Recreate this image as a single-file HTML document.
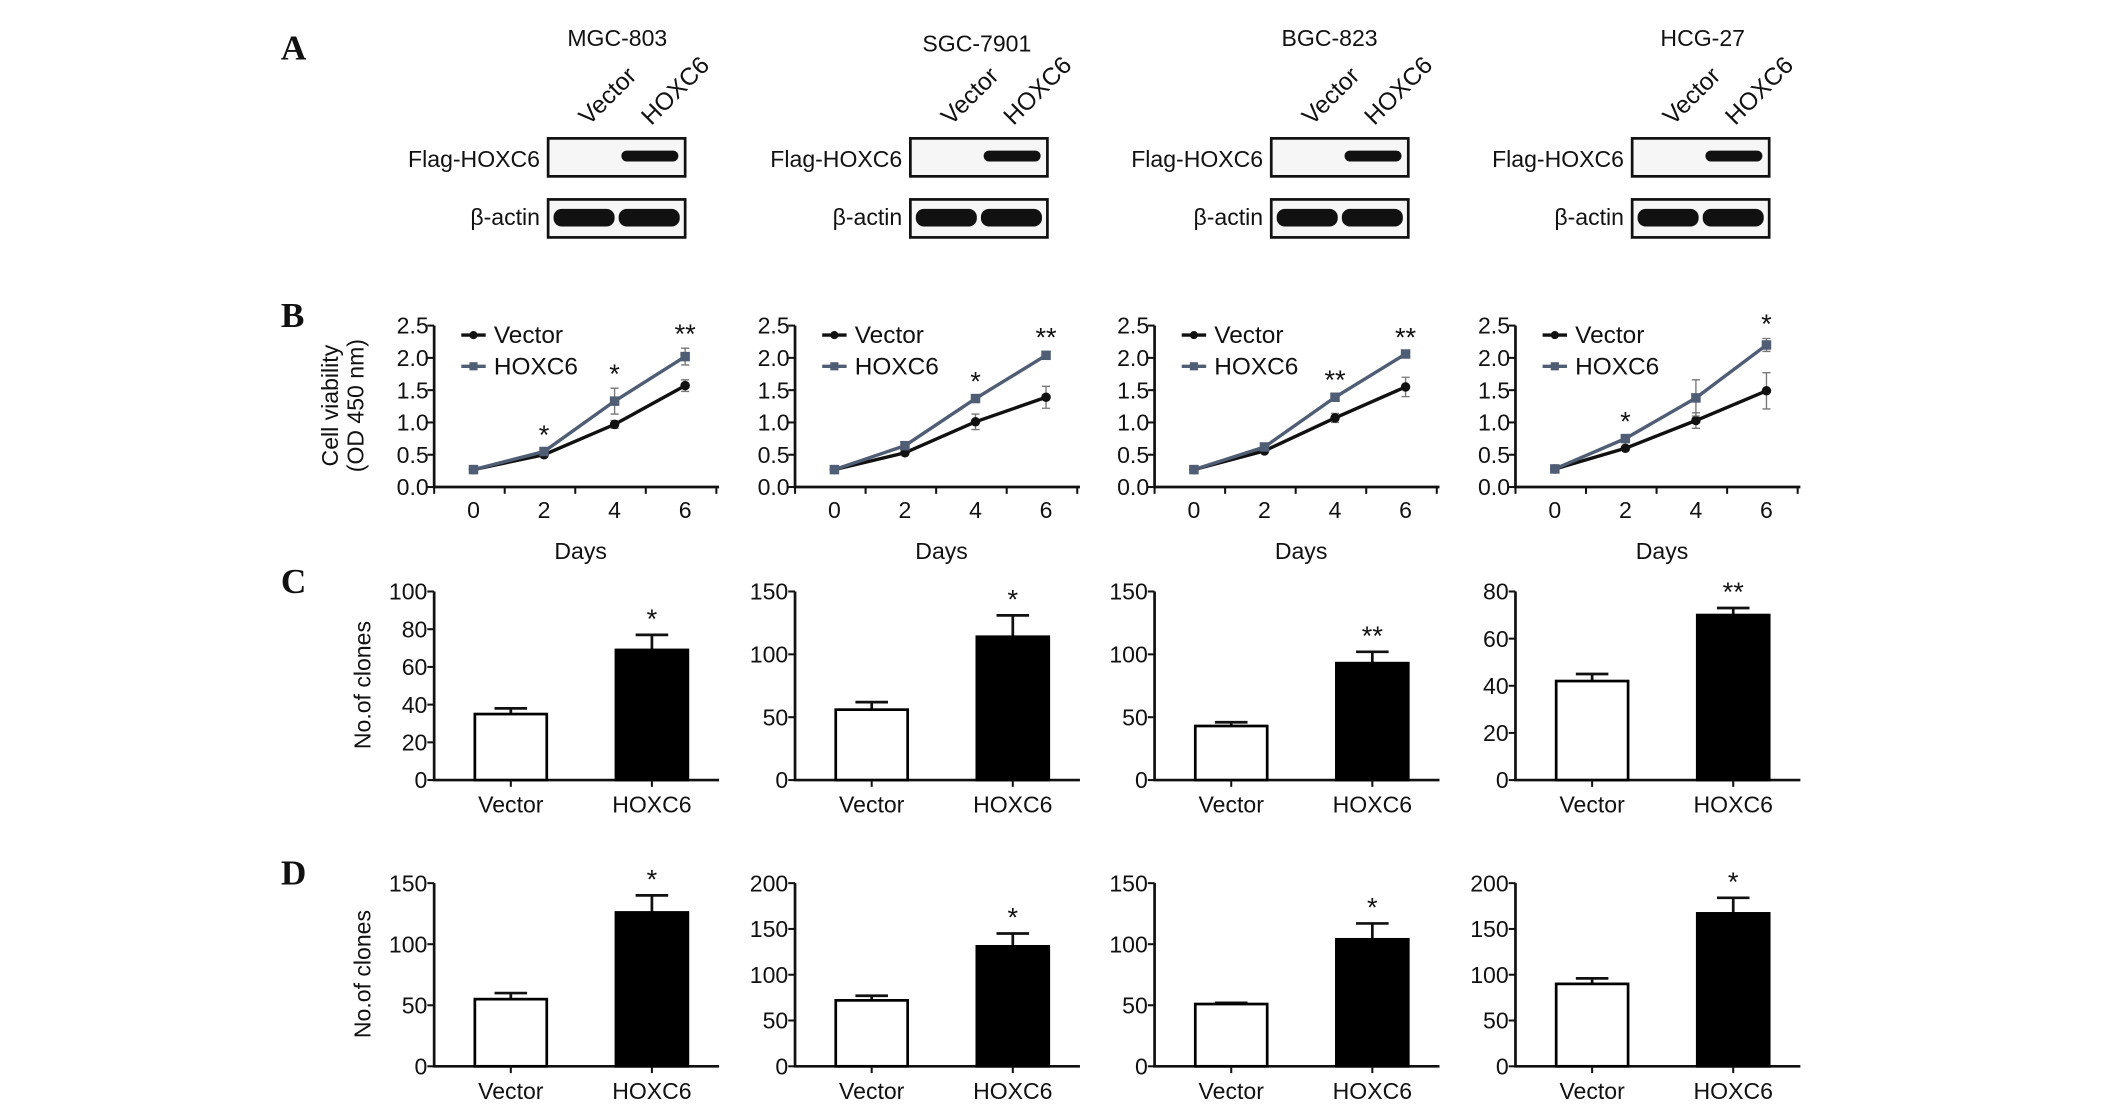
<!DOCTYPE html>
<html><head><meta charset="utf-8"><style>
html,body{margin:0;padding:0;background:#fff;}
svg{display:block;}
text{font-family:"Liberation Sans",Arial,sans-serif;fill:#111;}
</style></head>
<body>
<svg id="fig" width="2126" height="1107" viewBox="0 0 1567 816" preserveAspectRatio="none" xmlns="http://www.w3.org/2000/svg">
<g font-weight="bold" font-size="26">
<text x="207" y="44" style="font-family:'Liberation Serif',serif">A</text>
<text x="207" y="241" style="font-family:'Liberation Serif',serif">B</text>
<text x="207" y="437" style="font-family:'Liberation Serif',serif">C</text>
<text x="207" y="652" style="font-family:'Liberation Serif',serif">D</text>
</g>
</svg>
<script>
// ---- data ----
const cellLines = ["MGC-803","SGC-7901","BGC-823","HCG-27"];
const days = [0,2,4,6];
const vecGrowth = [[0.27,0.50,0.97,1.57],[0.27,0.53,1.01,1.39],[0.27,0.56,1.07,1.55],[0.28,0.60,1.03,1.49]];
const vecGrowthErr = [[0.02,0.02,0.06,0.09],[0.02,0.03,0.12,0.17],[0.02,0.03,0.07,0.15],[0.02,0.03,0.12,0.28]];
const hoxGrowth = [[0.27,0.55,1.33,2.02],[0.27,0.64,1.37,2.04],[0.27,0.62,1.39,2.06],[0.28,0.75,1.38,2.20]];
const hoxGrowthErr = [[0.02,0.03,0.20,0.13],[0.02,0.04,0.04,0.05],[0.02,0.03,0.04,0.03],[0.02,0.04,0.28,0.10]];
const growthStars = [["","*","*","**"],["","","*","**"],["","","**","**"],["","*","","*"]];
const growthTicks = ["0.0","0.5","1.0","1.5","2.0","2.5"];
const groups = ["Vector","HOXC6"];
const cVals = [[35,69],[56,114],[43,93],[42,70]];
const cErrs = [[3,8],[6,17],[3,9],[3,3]];
const cMax = [100,150,150,80];
const cStep = [20,50,50,20];
const cStars = ["*","*","**","**"];
const dVals = [[55,126],[72,131],[51,104],[90,167]];
const dErrs = [[5,14],[5,14],[1,13],[6,17]];
const dMax = [150,200,150,200];
const dStep = [50,50,50,50];
const dStars = ["*","*","*","*"];

const NS="http://www.w3.org/2000/svg";
const svg=document.getElementById('fig');
function mk(tag,attrs,parent,txt){const e=document.createElementNS(NS,tag);for(const k in attrs)e.setAttribute(k,attrs[k]);if(txt!==undefined)e.textContent=txt;(parent||svg).appendChild(e);return e;}
const axisX=[320,586,851,1117];

// ---- Row A: blots ----
const boxX=[404,671,937,1203];
const titleX=[455,720,980,1255];
const titleY=[34,38,34,34];
cellLines.forEach((cl,i)=>{
  const g=mk('g',{});
  
  
  const t=mk('text',{x:titleX[i],y:titleY[i],'font-size':17,'text-anchor':'middle'},g,cl);
  
  
  const bx=boxX[i];
  [['Vector',bx+30],['HOXC6',bx+76]].forEach(([s,x])=>{
    const lt=mk('text',{x:x,y:93,'font-size':18,transform:`rotate(-45 ${x} 93)`},g,s);
    
    
  });
  const l1=mk('text',{x:bx-6,y:123,'font-size':17,'text-anchor':'end'},g,'Flag-HOXC6');
  
  const l2=mk('text',{x:bx-6,y:166,'font-size':17,'text-anchor':'end'},g,'β-actin');
  
  const b1=mk('rect',{x:bx,y:102,width:101,height:28,fill:'#f6f6f6',stroke:'#111','stroke-width':2},g);
  
  const band1=mk('rect',{x:bx+54,y:111,width:42,height:8,rx:4,fill:'#111'},g);
  
  const b2=mk('rect',{x:bx,y:147,width:101,height:28,fill:'#f6f6f6',stroke:'#111','stroke-width':2},g);
  
  [bx+4,bx+52].forEach(x=>{const bd=mk('rect',{x:x,y:154,width:45,height:13,rx:6,fill:'#111'},g);
    });
});

// ---- Row B: growth curves ----
cellLines.forEach((cl,i)=>{
  const g=mk('g',{});
  
  
  const ax=axisX[i], y0=359, yTop=240, x0=ax+29, dx=26;
  const X=d=>x0+d*dx, Y=v=>y0-(v/2.5)*(y0-yTop);
  const a=mk('path',{d:`M${ax},${yTop} V${y0} H${ax+210}`,stroke:'#111','stroke-width':2,fill:'none'},g);
  
  growthTicks.forEach((s,k)=>{const v=parseFloat(s);
    mk('line',{x1:ax-5,x2:ax,y1:Y(v),y2:Y(v),stroke:'#111','stroke-width':1.5},g);
    const t=mk('text',{x:ax-4,y:Y(v)+6,'font-size':17,'text-anchor':'end'},g,s);
    });
  for(let k=0;k<5;k++){
    mk('line',{x1:ax+k*52,x2:ax+k*52,y1:y0,y2:y0+5,stroke:'#111','stroke-width':1.5},g);}
  days.forEach(d=>{const t=mk('text',{x:X(d),y:y0+23,'font-size':17,'text-anchor':'middle'},g,d);
    });
  const xt=mk('text',{x:ax+108,y:412,'font-size':17,'text-anchor':'middle'},g,'Days');
  
  if(i===0){
    const yt=mk('text',{'font-size':17,'text-anchor':'middle',transform:`translate(249,${y0-60}) rotate(-90)`},g);
    
    mk('tspan',{x:0,y:0},yt,'Cell viability');
    mk('tspan',{x:0,y:19},yt,'(OD 450 nm)');
  }
  [[vecGrowth[i],vecGrowthErr[i],'#111','circle','vector'],[hoxGrowth[i],hoxGrowthErr[i],'#4f5d75','square','hoxc6']].forEach(([vals,errs,col,mark,nm])=>{
    const p=mk('polyline',{points:vals.map((v,k)=>X(days[k])+','+Y(v)).join(' '),fill:'none',stroke:col,'stroke-width':2.5},g);
    
    vals.forEach((v,k)=>{const x=X(days[k]);
      mk('path',{d:`M${x-3},${Y(v+errs[k])}H${x+3}M${x},${Y(v+errs[k])}V${Y(v-errs[k])}M${x-3},${Y(v-errs[k])}H${x+3}`,stroke:'#777','stroke-width':1},g);
      const m=mark==='circle'?mk('circle',{cx:x,cy:Y(v),r:3.5,fill:col},g):mk('rect',{x:x-3.5,y:Y(v)-3.5,width:7,height:7,fill:col},g);
      });
  });
  growthStars[i].forEach((s,k)=>{if(!s)return;const top=Math.max(hoxGrowth[i][k]+hoxGrowthErr[i][k],vecGrowth[i][k]+vecGrowthErr[i][k]);
    const t=mk('text',{x:X(days[k]),y:Y(top)-4,'font-size':20,'text-anchor':'middle'},g,s);
    });
  const lg=mk('g',{},g);
  const ly=[247,270], lx=ax+20;
  mk('line',{x1:lx,x2:lx+18,y1:ly[0],y2:ly[0],stroke:'#111','stroke-width':2.5},lg);
  mk('circle',{cx:lx+9,cy:ly[0],r:3,fill:'#111'},lg);
  const e1=mk('text',{x:lx+24,y:ly[0]+6,'font-size':18},lg,'Vector');
  
  mk('line',{x1:lx,x2:lx+18,y1:ly[1],y2:ly[1],stroke:'#4f5d75','stroke-width':2.5},lg);
  mk('rect',{x:lx+6,y:ly[1]-3,width:6,height:6,fill:'#4f5d75'},lg);
  const e2=mk('text',{x:lx+24,y:ly[1]+6,'font-size':18},lg,'HOXC6');
  
});

// ---- Rows C & D: bar charts ----
function barRow(vals,errs,maxes,steps,stars,y0,yTop,rowName,labelY){
  cellLines.forEach((cl,i)=>{
    const g=mk('g',{});
    
    
    const ax=axisX[i];
    const Y=v=>y0-(v/maxes[i])*(y0-yTop);
    const bx=[ax+30,ax+134], bw=53;
    const a=mk('path',{d:`M${ax},${yTop} V${y0} H${ax+210}`,stroke:'#111','stroke-width':2,fill:'none'},g);
    
    for(let v=0;v<=maxes[i];v+=steps[i]){
      mk('line',{x1:ax-5,x2:ax,y1:Y(v),y2:Y(v),stroke:'#111','stroke-width':1.5},g);
      const t=mk('text',{x:ax-5,y:Y(v)+6,'font-size':17,'text-anchor':'end'},g,v);
      
    }
    groups.forEach((gn,k)=>{
      const x=bx[k], cx=x+bw/2, v=vals[i][k], e=errs[i][k];
      mk('path',{d:`M${cx},${Y(v)}V${Y(v+e)}M${cx-12},${Y(v+e)}H${cx+12}`,stroke:'#111','stroke-width':2},g);
      const r=mk('rect',{x:x,y:Y(v),width:bw,height:y0-Y(v),fill:k?'#000':'#fff',stroke:'#000','stroke-width':2},g);
      
      mk('line',{x1:cx,x2:cx,y1:y0,y2:y0+5,stroke:'#111','stroke-width':1.5},g);
      const t=mk('text',{x:cx,y:y0+24,'font-size':17,'text-anchor':'middle'},g,gn);
      
    });
    const cx=bx[1]+bw/2;
    const st=mk('text',{x:cx,y:Y(vals[i][1]+errs[i][1])-5,'font-size':20,'text-anchor':'middle'},g,stars[i]);
    
    if(i===0){const yt=mk('text',{'font-size':17,'text-anchor':'middle',transform:`translate(273,${labelY}) rotate(-90)`},g,'No.of clones');
      }
  });
}
barRow(cVals,cErrs,cMax,cStep,cStars,575,436,'colony',505);
barRow(dVals,dErrs,dMax,dStep,dStars,786,651,'soft-agar',718);
</script>
</body></html>
